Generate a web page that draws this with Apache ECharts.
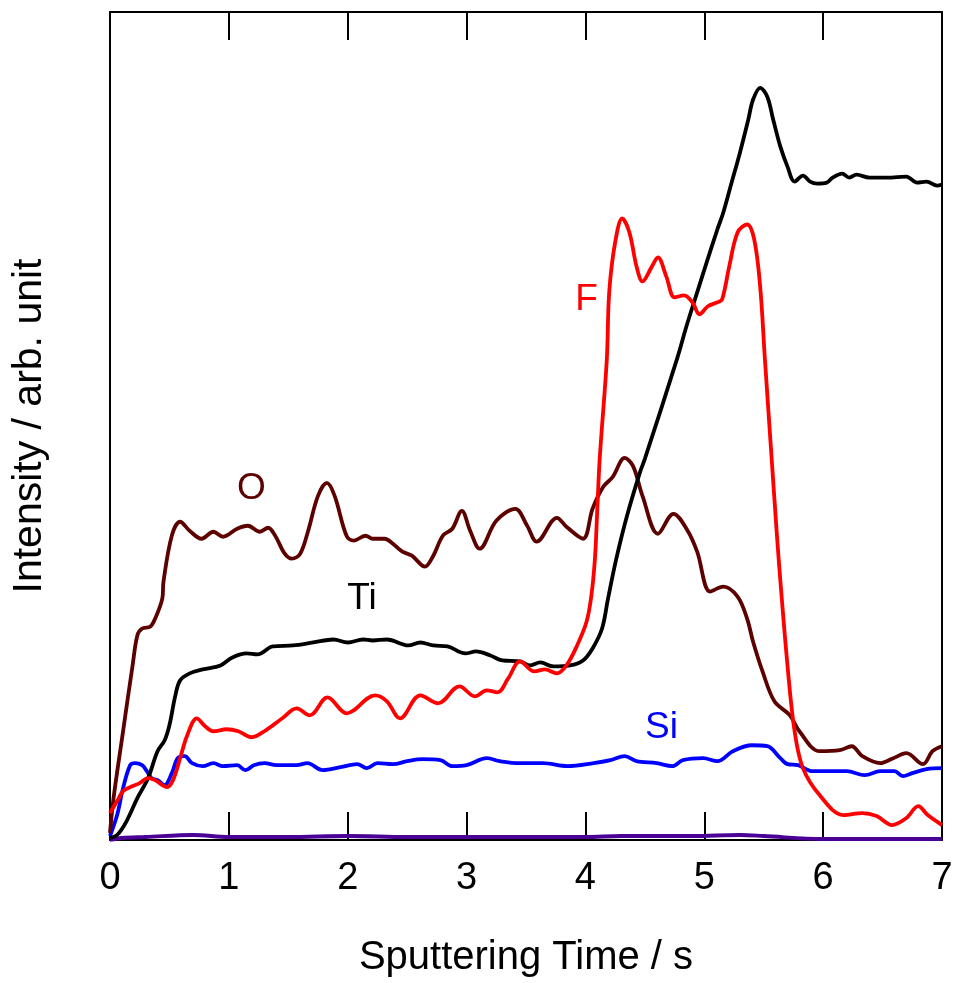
<!DOCTYPE html>
<html>
<head>
<meta charset="utf-8">
<script src="https://cdn.jsdelivr.net/npm/echarts@6/dist/echarts.min.js"></script>
<style>
html,body{margin:0;padding:0;background:#fff;}
#chart{width:957px;height:983px;}
</style>
</head>
<body>
<div id="chart"></div>
<script>
// Sputtering time (s) and intensity (arb. unit) for each element
const timeO = [0.00,0.03,0.11,0.19,0.23,0.27,0.34,0.38,0.44,0.45,0.52,0.59,0.67,0.77,0.87,0.95,1.07,1.16,1.26,1.33,1.39,1.47,1.53,1.60,1.665,1.75,1.825,1.89,1.99,2.05,2.15,2.21,2.31,2.38,2.46,2.54,2.65,2.72,2.80,2.88,2.96,3.03,3.11,3.25,3.41,3.51,3.59,3.76,3.84,3.98,4.06,4.15,4.23,4.33,4.40,4.48,4.61,4.74,4.86,4.94,5.05,5.16,5.28,5.36,5.41,5.49,5.59,5.72,5.80,5.97,6.14,6.24,6.33,6.48,6.59,6.70,6.84,6.92,7.00];
const valO  = [7,42,109,175,205,212,214,222,242,259,305,319,310,302,309,304,312,315,309,313,305,287,282,287,309,345,358,345,305,300,305,302,302,297,289,285,274,285,305,312,330,310,292,320,332,315,299,323,314,302,332,354,364,383,375,345,307,327,310,289,249,254,244,222,199,169,139,125,109,89,90,94,84,77,82,87,76,89,94];

const timeTi = [0.00,0.06,0.14,0.23,0.32,0.40,0.46,0.50,0.55,0.59,0.67,0.78,0.93,1.03,1.15,1.24,1.37,1.54,1.71,1.88,2.00,2.13,2.21,2.33,2.51,2.61,2.72,2.84,2.99,3.08,3.20,3.30,3.45,3.53,3.62,3.73,3.87,3.98,4.06,4.14,4.19,4.26,4.35,4.46,4.50,4.77,4.85,4.94,5.02,5.11,5.16,5.23,5.30,5.37,5.41,5.47,5.53,5.58,5.64,5.70,5.76,5.83,5.89,5.95,6.03,6.08,6.16,6.22,6.28,6.39,6.54,6.70,6.79,6.87,6.96,7.00];
const valTi  = [2,5,19,42,62,89,100,115,145,160,167,171,175,183,187,186,194,195,198,201,198,201,200,201,195,198,195,194,187,189,185,180,179,175,178,174,175,180,192,212,242,282,325,369,382,482,515,549,579,612,629,659,689,722,742,754,745,722,695,675,660,666,660,658,659,664,668,664,667,664,664,665,659,660,656,657];

const timeF = [0.00,0.06,0.11,0.17,0.25,0.32,0.38,0.44,0.48,0.53,0.59,0.65,0.73,0.80,0.87,0.98,1.08,1.19,1.31,1.45,1.57,1.68,1.83,1.99,2.23,2.33,2.44,2.61,2.76,2.94,3.07,3.17,3.26,3.35,3.45,3.57,3.66,3.76,3.84,3.93,4.01,4.05,4.08,4.10,4.12,4.18,4.20,4.25,4.31,4.37,4.43,4.48,4.56,4.61,4.68,4.75,4.83,4.90,4.96,5.03,5.11,5.15,5.21,5.28,5.36,5.42,5.47,5.51,5.59,5.63,5.70,5.76,5.83,5.97,6.17,6.33,6.45,6.58,6.70,6.80,6.88,7.00];
const valF  = [27,39,49,53,57,62,60,55,53,60,82,105,122,114,109,111,109,103,110,122,132,125,143,127,145,139,122,145,137,154,144,150,148,162,179,169,171,167,175,195,219,245,282,332,382,482,549,599,623,609,575,560,575,584,565,544,546,539,527,535,539,542,575,609,617,602,555,482,342,275,175,109,72,45,25,27,24,15,22,34,25,15];

const timeSi = [0.00,0.06,0.11,0.17,0.21,0.27,0.31,0.35,0.40,0.46,0.52,0.57,0.63,0.69,0.78,0.87,0.95,1.07,1.14,1.21,1.30,1.40,1.57,1.66,1.79,1.94,2.08,2.16,2.25,2.38,2.50,2.63,2.78,2.88,3.00,3.17,3.28,3.45,3.64,3.85,4.07,4.21,4.33,4.43,4.60,4.73,4.82,4.99,5.11,5.24,5.40,5.53,5.64,5.70,5.79,5.91,6.08,6.20,6.35,6.48,6.60,6.67,6.75,6.87,7.00];
const valSi  = [4,25,52,75,77,75,69,62,60,55,67,82,84,77,74,77,74,75,70,75,77,75,75,77,70,73,76,72,77,76,79,81,80,74,75,82,79,77,77,74,77,80,84,79,77,74,80,82,79,89,95,94,82,76,75,69,69,69,65,69,69,64,67,71,72];

const timeX = [0.0,0.1,0.3,0.7,1.0,1.5,2.0,2.5,3.0,4.0,4.3,4.9,5.3,5.5,6.0,7.0];
const valX  = [0,2,3,5,3,3,4,3,3,3,4,4,5,4,1,1];

const xTicks = [0,1,2,3,4,5,6,7];
const labels = [
  {name:'O',  x:1.19, y:352, color:'#5c0000'},
  {name:'Ti', x:2.12, y:242, color:'#000000'},
  {name:'F',  x:4.01, y:542, color:'#ff0000'},
  {name:'Si', x:4.64, y:112, color:'#0000ff'}
];

function pairs(t, v){ return t.map((x,i)=>[x, v[i]]); }

const FONT = '"Liberation Sans", Arial, sans-serif';
const chart = echarts.init(document.getElementById('chart'), null, {renderer:'canvas'});

function mkSeries(name, t, v, color, lbl){
  const s = {
    name: name, type:'line', data: pairs(t, v), showSymbol:false, smooth:0.35,
    lineStyle:{color:color, width:3.8}, itemStyle:{color:color}, silent:true, z:3
  };
  if (lbl) {
    s.markPoint = {
      symbol:'circle', symbolSize:0, silent:true,
      data:[{coord:[lbl.x, lbl.y], label:{show:true, position:'inside', formatter:lbl.name, color:lbl.color, fontSize:37, fontFamily:FONT}}]
    };
  }
  return s;
}

const axisLineStyle = {color:'#000', width:2};
chart.setOption({
  animation:false,
  backgroundColor:'#fff',
  grid:{left:110, right:15, top:12, bottom:141, containLabel:false},
  xAxis:[
    {type:'value', min:xTicks[0], max:xTicks[xTicks.length-1], interval:1, position:'bottom',
     name:'Sputtering Time / s', nameLocation:'middle', nameGap:98,
     nameTextStyle:{fontSize:40, fontFamily:FONT, color:'#000'},
     axisLine:{show:true, onZero:false, lineStyle:axisLineStyle},
     axisTick:{show:true, inside:true, length:28, lineStyle:{color:'#000', width:2}},
     axisLabel:{show:true, margin:20, fontSize:38, fontFamily:FONT, color:'#000'},
     splitLine:{show:false}},
    {type:'value', min:xTicks[0], max:xTicks[xTicks.length-1], interval:1, position:'top',
     axisLine:{show:true, onZero:false, lineStyle:axisLineStyle},
     axisTick:{show:true, inside:true, length:28, lineStyle:{color:'#000', width:2}},
     axisLabel:{show:false}, splitLine:{show:false}}
  ],
  yAxis:[
    {type:'value', min:0, max:830, position:'left',
     name:'Intensity / arb. unit', nameLocation:'middle', nameGap:60,
     nameTextStyle:{fontSize:41, fontFamily:FONT, color:'#000'},
     axisLine:{show:true, onZero:false, lineStyle:axisLineStyle},
     axisTick:{show:false}, axisLabel:{show:false}, splitLine:{show:false}},
    {type:'value', min:0, max:830, position:'right',
     axisLine:{show:true, onZero:false, lineStyle:axisLineStyle},
     axisTick:{show:false}, axisLabel:{show:false}, splitLine:{show:false}}
  ],
  series:[
    mkSeries('X', timeX, valX, '#4b0096', null),
    mkSeries('Si', timeSi, valSi, '#0000ff', labels[3]),
    mkSeries('O', timeO, valO, '#5c0000', labels[0]),
    mkSeries('Ti', timeTi, valTi, '#000000', labels[1]),
    mkSeries('F', timeF, valF, '#ff0000', labels[2])
  ]
});
</script>
</body>
</html>
